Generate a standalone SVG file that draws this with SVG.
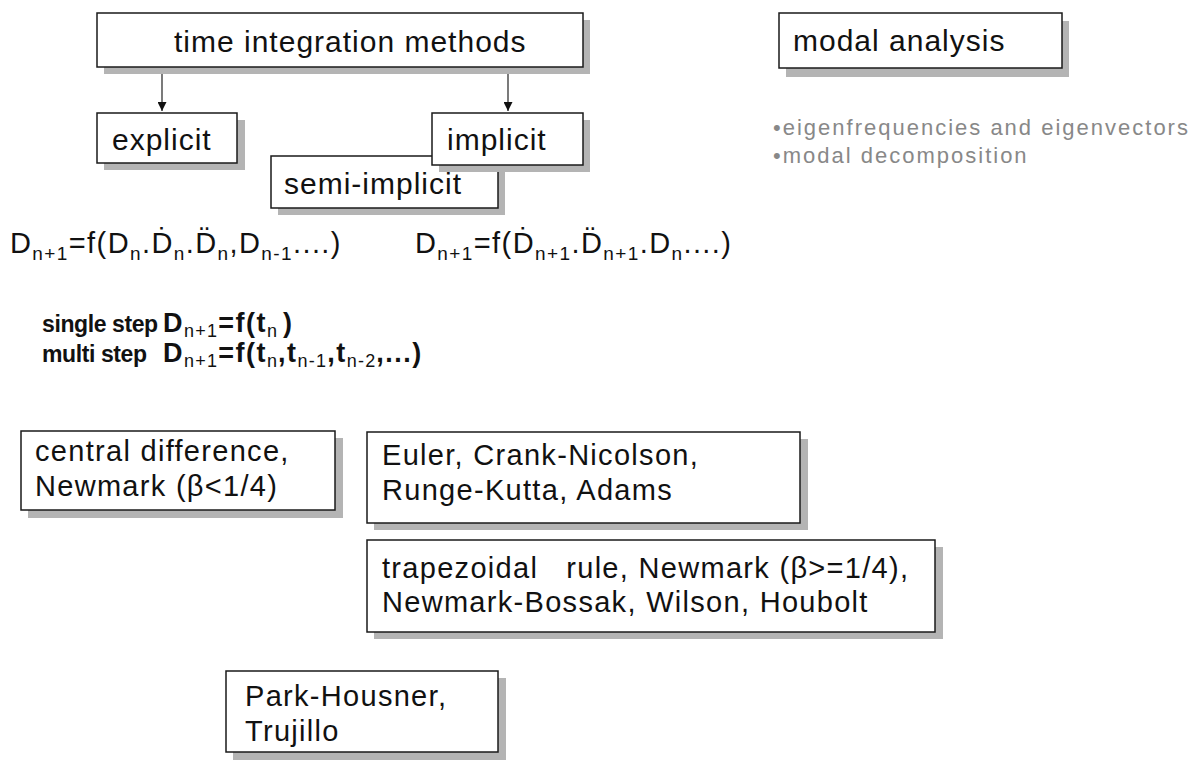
<svg xmlns="http://www.w3.org/2000/svg" width="1194" height="767" viewBox="0 0 1194 767">
<defs>
<style>
.box{fill:#fff;stroke:#1a1a1a;stroke-width:1.5}
.sh{fill:#b4b4b4}
.t{font-family:"Liberation Sans",Arial,sans-serif;fill:#111}
.h{font-size:30px;letter-spacing:1px}
.b{font-size:29px;letter-spacing:1.3px}
.f{font-size:29px;letter-spacing:1.4px}
.s{font-size:19px}
.ss{font-size:23px;font-weight:bold;letter-spacing:-0.4px}
.sf{font-size:27px;letter-spacing:1.5px}
.sb{font-size:18px;font-weight:normal;letter-spacing:1.2px}
.bul{font-family:"Liberation Sans",Arial,sans-serif;font-size:22px;letter-spacing:2px;fill:#888}
.con{stroke:#333;stroke-width:1.3;fill:none}
</style>
<marker id="ah" viewBox="0 0 10 10" refX="10" refY="5" markerWidth="9" markerHeight="9" markerUnits="userSpaceOnUse" orient="auto">
<path d="M0,0 L10,5 L0,10 Z" fill="#111"/>
</marker>
</defs>
<rect width="1194" height="767" fill="#fff"/>

<g id="connectors">
<line class="con" x1="162" y1="67" x2="162" y2="111" marker-end="url(#ah)"/>
<line class="con" x1="508" y1="67" x2="508" y2="111" marker-end="url(#ah)"/>
</g>

<g id="time-integration">
<rect class="sh" x="104" y="20" width="486" height="54"/>
<rect class="box" x="97" y="13" width="486" height="54"/>
<text class="t h" x="174" y="52">time integration methods</text>
</g>

<g id="modal-analysis">
<rect class="sh" x="786" y="21" width="283" height="56"/>
<rect class="box" x="779" y="13" width="283" height="55"/>
<text class="t h" x="793" y="51">modal analysis</text>
</g>

<g id="modal-bullets">
<text class="bul" x="773" y="135">•eigenfrequencies and eigenvectors</text>
<text class="bul" x="773" y="163">•modal decomposition</text>
</g>

<g id="explicit">
<rect class="sh" x="104" y="120" width="141" height="50"/>
<rect class="box" x="97" y="113" width="140" height="50"/>
<text class="t h" x="112" y="150">explicit</text>
</g>

<g id="semi-implicit">
<rect class="sh" x="278" y="163" width="227" height="52"/>
<rect class="box" x="271" y="156" width="227" height="52"/>
<text class="t h" x="284" y="194">semi-implicit</text>
</g>

<g id="implicit">
<rect class="sh" x="439" y="120" width="151" height="52"/>
<rect class="box" x="432" y="113" width="151" height="52"/>
<text class="t h" x="447" y="150">implicit</text>
</g>

<g id="formula-explicit">
<text class="t f" x="10" y="253">D<tspan class="s" dy="7">n+1</tspan><tspan dy="-7">=f(D</tspan><tspan class="s" dy="7">n</tspan><tspan dy="-7">.Ḋ</tspan><tspan class="s" dy="7">n</tspan><tspan dy="-7">.D̈</tspan><tspan class="s" dy="7">n</tspan><tspan dy="-7">,D</tspan><tspan class="s" dy="7">n-1</tspan><tspan dy="-7">....)</tspan></text>
</g>

<g id="formula-implicit">
<text class="t f" x="415" y="253">D<tspan class="s" dy="7">n+1</tspan><tspan dy="-7">=f(Ḋ</tspan><tspan class="s" dy="7">n+1</tspan><tspan dy="-7">.D̈</tspan><tspan class="s" dy="7">n+1</tspan><tspan dy="-7">.D</tspan><tspan class="s" dy="7">n</tspan><tspan dy="-7">....)</tspan></text>
</g>

<g id="step-lines">
<text class="t ss" x="42" y="332">single step <tspan class="sf" x="163">D</tspan><tspan class="sb" dy="5">n+1</tspan><tspan class="sf" dy="-5">=f(t</tspan><tspan class="sb" dy="5">n</tspan><tspan class="sf" dy="-5" dx="5">)</tspan></text>
<text class="t ss" x="42" y="362">multi step <tspan class="sf" x="163">D</tspan><tspan class="sb" dy="5">n+1</tspan><tspan class="sf" dy="-5">=f(t</tspan><tspan class="sb" dy="5">n</tspan><tspan class="sf" dy="-5">,t</tspan><tspan class="sb" dy="5">n-1</tspan><tspan class="sf" dy="-5">,t</tspan><tspan class="sb" dy="5">n-2</tspan><tspan class="sf" dy="-5">,...)</tspan></text>
</g>

<g id="central-difference">
<rect class="sh" x="28" y="438" width="315" height="80"/>
<rect class="box" x="21" y="431" width="314" height="79"/>
<text class="t b" x="35" y="461">central difference,</text>
<text class="t b" x="35" y="496">Newmark (β&lt;1/4)</text>
</g>

<g id="euler">
<rect class="sh" x="374" y="439" width="434" height="91"/>
<rect class="box" x="367" y="432" width="433" height="91"/>
<text class="t b" x="382" y="465">Euler, Crank-Nicolson,</text>
<text class="t b" x="382" y="500">Runge-Kutta, Adams</text>
</g>

<g id="trapezoidal">
<rect class="sh" x="374" y="547" width="569" height="92"/>
<rect class="box" x="367" y="540" width="568" height="92"/>
<text class="t b" x="382" y="578" xml:space="preserve">trapezoidal   rule, Newmark (β&gt;=1/4),</text>
<text class="t b" x="382" y="612">Newmark-Bossak, Wilson, Houbolt</text>
</g>

<g id="park-housner">
<rect class="sh" x="233" y="678" width="273" height="82"/>
<rect class="box" x="226" y="671" width="272" height="81"/>
<text class="t b" x="245" y="706">Park-Housner,</text>
<text class="t b" x="245" y="741">Trujillo</text>
</g>
</svg>
